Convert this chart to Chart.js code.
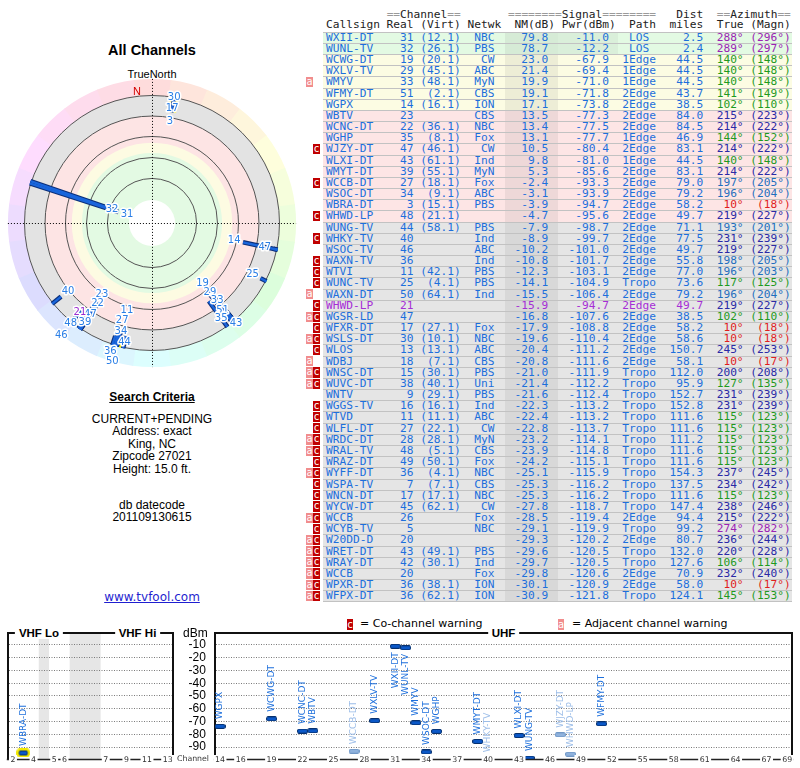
<!DOCTYPE html>
<html><head><meta charset="utf-8">
<script src="https://cdn.jsdelivr.net/npm/chart.js@4.4.1/dist/chart.umd.min.js"></script>
<style>
body{margin:0;background:#fff;}
#page{position:relative;width:800px;height:768px;overflow:hidden;font-family:"Liberation Sans",Arial,sans-serif;color:#000;background:#fff;}
.abs{position:absolute;white-space:nowrap;}
.c200{width:200px;text-align:center;}
.row{position:absolute;left:323px;width:469px;height:11.17px;}
.txt{position:absolute;left:3px;top:0;font-family:"DejaVu Sans Mono",monospace;font-size:11.2px;line-height:11.17px;white-space:pre;}
.eq{color:#9a9a9a;}
.flag{position:absolute;width:6.5px;height:10.2px;font-family:"DejaVu Sans Mono",monospace;font-size:10px;line-height:10px;color:#fff;text-align:center;}
.fa{background:#f18d8d;}
.fc{background:#c00000;}
.ttl{position:absolute;white-space:nowrap;font-weight:bold;font-size:11.5px;line-height:12px;background:#fff;padding:0 4px;transform:translateX(-50%);}
canvas{position:absolute;}
</style></head>
<body><div id="page">
<div class="abs c200" style="left:52px;top:41px;font-weight:bold;font-size:14.5px;line-height:18px;">All Channels</div>
<div class="abs c200" style="left:52px;top:67px;font-size:11px;line-height:14px;">TrueNorth</div>
<div class="abs c200" style="left:52px;top:390px;font-size:12px;line-height:14px;font-weight:bold;"><span style="text-decoration:underline;">Search Criteria</span></div>
<div class="abs c200" style="left:52px;top:413px;font-size:12px;line-height:12.4px;">CURRENT+PENDING<br>Address: exact<br>King, NC<br>Zipcode 27021<br>Height: 15.0 ft.</div>
<div class="abs c200" style="left:52px;top:499px;font-size:12px;line-height:12.4px;">db datecode<br>201109130615</div>
<div class="abs c200" style="left:52px;top:590px;font-size:12px;line-height:15px;font-family:'DejaVu Sans',sans-serif;color:#1f1fd0;text-decoration:underline;">www.tvfool.com</div>
<canvas id="polar" width="300" height="300" style="left:2px;top:73px;width:300px;height:300px;"></canvas>

<div class="flag fc" style="left:346.7px;top:618.5px;height:11px;line-height:11px;">c</div>
<div class="abs" style="left:360px;top:617px;font-family:'DejaVu Sans',sans-serif;font-size:11px;line-height:14px;">= Co-channel warning</div>
<div class="flag fa" style="left:557.7px;top:618.5px;height:11px;line-height:11px;">a</div>
<div class="abs" style="left:572px;top:617px;font-family:'DejaVu Sans',sans-serif;font-size:11px;line-height:14px;">= Adjacent channel warning</div>

<canvas id="vhf" width="180" height="140" style="left:0px;top:628px;width:180px;height:140px;"></canvas>
<canvas id="uhf" width="625" height="140" style="left:175px;top:628px;width:625px;height:140px;"></canvas>
<div class="ttl" style="left:39px;top:627px;">VHF Lo</div>
<div class="ttl" style="left:137.5px;top:627px;">VHF Hi</div>
<div class="ttl" style="left:503.5px;top:627px;">UHF</div>
<div class="abs" style="left:183px;top:626px;font-size:12px;line-height:14px;">dBm</div>
<div class="abs" style="left:177px;top:754px;font-family:'DejaVu Sans',sans-serif;font-size:7.8px;line-height:10px;color:#333;background:#fff;">Channel</div>
</div>
<script>
// ---------------- DATA ----------------
const callsigns = ['WXII-DT','WUNL-TV','WCWG-DT','WXLV-TV','WMYV','WFMY-DT','WGPX','WBTV','WCNC-DT','WGHP','WJZY-DT','WLXI-DT','WMYT-DT','WCCB-DT','WSOC-DT','WBRA-DT','WHWD-LP','WUNG-TV','WHKY-TV','WSOC-TV','WAXN-TV','WTVI','WUNC-TV','WAXN-DT','WHWD-LP','WGSR-LD','WFXR-DT','WSLS-DT','WLOS','WDBJ','WNSC-DT','WUVC-DT','WNTV','WGGS-TV','WTVD','WLFL-DT','WRDC-DT','WRAL-TV','WRAZ-DT','WYFF-DT','WSPA-TV','WNCN-DT','WYCW-DT','WCCB','WCYB-TV','W20DD-D','WRET-DT','WRAY-DT','WCCB','WPXR-DT','WFPX-DT'];
const realChannels = [31,32,19,29,33,51,14,23,22,35,47,43,39,27,34,3,48,44,40,46,36,11,25,50,21,47,17,30,13,18,15,38,9,16,11,27,28,48,49,36,7,17,45,26,5,20,43,42,20,36,36];
const virtualChannels = ['12.1','26.1','20.1','45.1','48.1','2.1','16.1','','36.1','8.1','46.1','61.1','55.1','18.1','9.1','15.1','21.1','58.1','','','','42.1','4.1','64.1','','','27.1','10.1','13.1','7.1','30.1','40.1','29.1','16.1','11.1','22.1','28.1','5.1','50.1','4.1','7.1','17.1','62.1','','','','49.1','30.1','','38.1','62.1'];
const networks = ['NBC','PBS','CW','ABC','MyN','CBS','ION','CBS','NBC','Fox','CW','Ind','MyN','Fox','ABC','PBS','','PBS','Ind','ABC','Ind','PBS','PBS','Ind','','','Fox','NBC','ABC','CBS','PBS','Uni','PBS','Ind','ABC','CW','MyN','CBS','Fox','NBC','CBS','NBC','CW','Fox','NBC','','PBS','Ind','Fox','ION','ION'];
const noiseMarginDb = [79.8,78.7,23.0,21.4,19.9,19.1,17.1,13.5,13.4,13.1,10.5,9.8,5.3,-2.4,-3.1,-3.9,-4.7,-7.9,-8.9,-10.2,-10.8,-12.3,-14.1,-15.5,-15.9,-16.8,-17.9,-19.6,-20.4,-20.8,-21.0,-21.4,-21.6,-22.3,-22.4,-22.8,-23.2,-23.9,-24.2,-25.1,-25.3,-25.3,-27.8,-28.5,-29.1,-29.3,-29.6,-29.7,-29.8,-30.1,-30.9];
const powerDbm = [-11.0,-12.2,-67.9,-69.4,-71.0,-71.8,-73.8,-77.3,-77.5,-77.7,-80.4,-81.0,-85.6,-93.3,-93.9,-94.7,-95.6,-98.7,-99.7,-101.0,-101.7,-103.1,-104.9,-106.4,-94.7,-107.6,-108.8,-110.4,-111.2,-111.6,-111.9,-112.2,-112.4,-113.2,-113.2,-113.7,-114.1,-114.8,-115.1,-115.9,-116.2,-116.2,-118.7,-119.4,-119.9,-120.2,-120.5,-120.5,-120.6,-120.9,-121.8];
const paths = ['LOS','LOS','1Edge','1Edge','1Edge','2Edge','2Edge','2Edge','2Edge','1Edge','2Edge','1Edge','2Edge','2Edge','2Edge','2Edge','2Edge','2Edge','2Edge','2Edge','2Edge','2Edge','Tropo','2Edge','2Edge','2Edge','2Edge','2Edge','2Edge','2Edge','Tropo','Tropo','Tropo','Tropo','Tropo','Tropo','Tropo','Tropo','Tropo','Tropo','Tropo','Tropo','Tropo','2Edge','Tropo','2Edge','Tropo','Tropo','2Edge','2Edge','Tropo'];
const distMiles = [2.5,2.4,44.5,44.5,44.5,43.7,38.5,84.0,84.5,46.9,83.1,44.5,83.1,79.0,79.2,58.2,49.7,71.1,77.5,49.7,55.8,77.0,73.6,79.2,49.7,38.5,58.2,58.6,150.7,58.1,112.0,95.9,152.7,152.8,111.6,111.6,111.2,111.6,111.6,154.3,137.5,111.6,147.4,94.4,99.2,80.7,132.0,127.6,70.9,58.0,124.1];
const azimuthTrue = [288,289,140,140,140,141,102,215,214,144,214,140,214,197,196,10,219,193,231,219,198,196,117,196,219,102,10,10,245,10,200,127,231,231,115,115,115,115,115,237,234,115,238,215,274,236,220,106,232,10,145];
const azimuthMagn = [296,297,148,148,148,149,110,223,222,152,222,148,222,205,204,18,227,201,239,227,205,203,125,204,227,110,18,18,253,17,208,135,239,239,123,123,123,123,123,245,242,123,246,222,282,244,228,114,240,17,153];
const warnings = ['','','','','a','','','','','','c','','','c','','','c','','c','','c','c','c','a','c','ac','c','ac','c','a','ac','ac','','c','c','c','ac','ac','c','ac','c','c','c','ac','c','ac','ac','ac','ac','ac','ac'];
const recordStatus = ['L','L','L','L','L','L','L','L','L','L','L','L','L','L','L','L','L','L','L','L','L','L','L','L','P','L','L','L','L','L','L','L','L','L','L','L','L','L','L','L','L','L','L','L','L','L','L','L','L','L','L'];

const dbmTicks = [-10,-20,-30,-40,-50,-60,-70,-80,-90];
const vhfTickChannels = [2,4,5,6,7,9,11,13];
const uhfTickChannels = [14,16,19,22,25,28,31,34,37,40,43,46,49,52,55,58,61,64,67,69];
const polarRingLevelsNm = [-20.3, 2, 24.2, 47, 69.7];

// ---------------- TABLE ----------------
const page = document.getElementById('page');
const ROW_H = 11.17, ROW0 = 31.715;
function azimuthColor(az){
  if (az < 60 || az >= 330) return '#e01e1e';
  if (az < 170) return '#1f9a1f';
  if (az < 199) return '#1f6fbe';
  if (az < 262) return '#2a2aa6';
  return '#9b22b4';
}
function zoneColor(nm){
  if (nm >= 30) return '#e3fae3';
  if (nm >= 15) return '#fcfce3';
  if (nm >= -6) return '#fde5e5';
  return '#e5e5e5';
}
function center5(s){ const t = 5 - s.length, l = Math.floor(t/2); return ' '.repeat(l) + s + ' '.repeat(t - l); }
function addDiv(parent, cls, css, html){ const d = document.createElement('div'); if (cls) d.className = cls; d.style.cssText = css; if (html !== undefined) d.innerHTML = html; parent.appendChild(d); return d; }

const header1 = '         ==Channel==       ========Signal========   Dist  ==Azimuth==';
const header2 = 'Callsign Real (Virt) Netwk  NM(dB) Pwr(dBm)  Path  miles  True (Magn)';
[header1, header2].forEach((h, k) => {
  const r = addDiv(page, 'row', `top:${(k === 0 ? 14.7 : 25) - 5.585}px;`);
  addDiv(r, 'txt', 'color:#222;', h.replace(/(=+)/g, '<span class="eq">$1</span>'));
});

callsigns.forEach((cs, i) => {
  const top = ROW0 + i * ROW_H;
  const r = addDiv(page, 'row', `top:${top}px;background:${zoneColor(noiseMarginDb[i])};`);
  addDiv(r, '', 'position:absolute;left:182px;width:53px;top:0;height:100%;background:rgba(60,60,60,0.08);');
  if (paths[i] === 'LOS') addDiv(r, '', 'position:absolute;left:235px;width:60px;top:0;height:100%;background:rgba(120,120,120,0.08);');
  addDiv(r, '', 'position:absolute;left:0;width:100%;top:0;height:1px;background:#c2c2c2;');
  if (i === callsigns.length - 1) addDiv(r, '', 'position:absolute;left:0;width:100%;bottom:-1px;height:1px;background:#c2c2c2;');
  const main = cs.padEnd(9) + String(realChannels[i]).padStart(4) + ' ' +
    (virtualChannels[i] ? '(' + virtualChannels[i] + ')' : '').padStart(6) +
    networks[i].padStart(5) + noiseMarginDb[i].toFixed(1).padStart(8) +
    powerDbm[i].toFixed(1).padStart(9) + '  ' + center5(paths[i]) +
    distMiles[i].toFixed(1).padStart(7);
  const az = (azimuthTrue[i] + '°').padStart(6) + ' ' + ('(' + azimuthMagn[i] + '°)').padStart(6);
  const mainColor = recordStatus[i] === 'P' ? '#a52ed6' : '#1d6fdc';
  addDiv(r, 'txt', '', `<span style="color:${mainColor}">${main}</span><span style="color:${azimuthColor(azimuthTrue[i])}">${az}</span>`);
  if (warnings[i].includes('a')) addDiv(page, 'flag fa', `left:306.3px;top:${top + 0.6}px;`, 'a');
  if (warnings[i].includes('c')) addDiv(page, 'flag fc', `left:313.3px;top:${top + 0.6}px;`, 'c');
});

// ---------------- POLAR ----------------
const NM_TOP = 118, NM_FLOOR = polarRingLevelsNm[0];
const RIM_NM = -38.3, DISK_NM = 93;
const U_EXT = 150 / 0.922;
const uOf = nm => NM_TOP - nm;
function polarPoint(nm, az){ const a = az * Math.PI / 180, u = uOf(nm); return {x: u * Math.sin(a), y: u * Math.cos(a)}; }
const polarIdx = callsigns.map((c, i) => i).filter(i => noiseMarginDb[i] > NM_FLOOR);
const polarDatasets = [];
polarIdx.forEach(i => {
  const pend = recordStatus[i] === 'P';
  const data = [polarPoint(noiseMarginDb[i], azimuthTrue[i]), polarPoint(NM_FLOOR - 1, azimuthTrue[i])];
  if (realChannels[i] <= 13) polarDatasets.push({data, showLine: true, borderColor: '#f3ea00', borderWidth: 9, pointRadius: 0, order: 3});
  polarDatasets.push({data, showLine: true, borderColor: pend ? '#5c1a86' : '#0b2f7a', borderWidth: 4.6, pointRadius: 0, order: 2});
  polarDatasets.push({data, showLine: true, borderColor: pend ? '#b048e6' : '#1a66dc', borderWidth: 2.4, pointRadius: 0, order: 1});
});
const polarBands = [
  {nm: NM_FLOOR, color: '#e3e3e3'},
  {nm: 2, color: '#fde4e4'},
  {nm: 31, color: '#fdfbe2'},
  {nm: 42, color: '#e3fae3'},
  {nm: DISK_NM, color: '#ffffff'}
];
const polarBg = {
  id: 'polarBg',
  beforeDatasetsDraw(chart){
    const {ctx} = chart; const xs = chart.scales.x, ys = chart.scales.y;
    const cx = xs.getPixelForValue(0), cy = ys.getPixelForValue(0);
    const k = xs.getPixelForValue(1) - cx;
    const R = nm => uOf(nm) * k;
    ctx.save();
    const rOut = R(RIM_NM), rIn = R(NM_FLOOR) - 1;
    for (let s = 0; s < 24; s++) {
      const a0 = (s * 15 - 7.5 - 90) * Math.PI / 180, a1 = a0 + 15.3 * Math.PI / 180;
      ctx.beginPath(); ctx.arc(cx, cy, rOut, a0, a1); ctx.arc(cx, cy, rIn, a1, a0, true); ctx.closePath();
      ctx.fillStyle = `hsl(${s * 15},95%,93%)`; ctx.fill();
    }
    polarBands.forEach(b => { ctx.beginPath(); ctx.arc(cx, cy, R(b.nm), 0, 2 * Math.PI); ctx.fillStyle = b.color; ctx.fill(); });
    ctx.strokeStyle = '#555'; ctx.lineWidth = 1;
    polarRingLevelsNm.forEach(nm => { ctx.beginPath(); ctx.arc(cx, cy, R(nm), 0, 2 * Math.PI); ctx.stroke(); });
    ctx.strokeStyle = '#000'; ctx.setLineDash([1, 2]);
    ctx.beginPath(); ctx.moveTo(cx - rOut, cy + 0.5); ctx.lineTo(cx + rOut, cy + 0.5);
    ctx.moveTo(cx + 0.5, cy - rOut); ctx.lineTo(cx + 0.5, cy + rOut); ctx.stroke();
    ctx.setLineDash([]);
    ctx.fillStyle = '#d40000'; ctx.font = '11px "Liberation Sans", Arial'; ctx.textAlign = 'center'; ctx.textBaseline = 'middle';
    ctx.fillText('N', cx - 15, cy - R(NM_FLOOR) - 4);
    ctx.restore();
  },
  afterDatasetsDraw(chart){
    const {ctx} = chart; const xs = chart.scales.x, ys = chart.scales.y;
    const cx = xs.getPixelForValue(0), cy = ys.getPixelForValue(0);
    const k = xs.getPixelForValue(1) - cx;
    ctx.save();
    ctx.font = '10px "DejaVu Sans"'; ctx.textAlign = 'center'; ctx.textBaseline = 'middle';
    ctx.lineJoin = 'round';
    const placed = [];
    const order = polarIdx.slice().sort((a, b) => noiseMarginDb[b] - noiseMarginDb[a]);
    order.forEach(i => {
      const txt = String(realChannels[i]);
      const w = ctx.measureText(txt).width + 1, h = 9;
      const a = azimuthTrue[i] * Math.PI / 180;
      const base = uOf(noiseMarginDb[i]) * k - 9;
      const cands = [];
      for (let d = 0; d <= 72; d += 5) if (base + d <= 146) cands.push(base + d);
      for (let d = 5; d <= 30; d += 5) cands.push(base - d);
      let pos = null;
      for (const r of cands) {
        const x = cx + r * Math.sin(a), y = cy - r * Math.cos(a);
        if (!placed.some(p => Math.abs(p.x - x) < (p.w + w) / 2 - 1 && Math.abs(p.y - y) < h - 1)) { pos = {x, y, w}; break; }
      }
      if (!pos) pos = {x: cx + base * Math.sin(a), y: cy - base * Math.cos(a), w};
      placed.push(pos);
      ctx.lineWidth = 3; ctx.strokeStyle = '#fff'; ctx.strokeText(txt, pos.x, pos.y);
      ctx.fillStyle = recordStatus[i] === 'P' ? '#9a2bd0' : '#2b7fe6';
      ctx.fillText(txt, pos.x, pos.y);
    });
    ctx.restore();
  }
};
new Chart(document.getElementById('polar'), {
  type: 'scatter',
  data: {datasets: polarDatasets},
  options: {
    responsive: false, animation: false, events: [],
    layout: {padding: 0},
    plugins: {legend: {display: false}, tooltip: {enabled: false}},
    scales: {
      x: {type: 'linear', min: -U_EXT, max: U_EXT, display: false},
      y: {type: 'linear', min: -U_EXT, max: U_EXT, display: false}
    }
  },
  plugins: [polarBg]
});

// ---------------- SPECTRUM BARS ----------------
const Y_MIN = -99.8, Y_MAX = -0.6;
const vhfSlot = ch => ch <= 4 ? ch - 2 : ch <= 6 ? ch - 1 : ch + 2;
const uhfSlot = ch => ch;
function rrect(g, x, y, w, h, r){ g.beginPath(); g.moveTo(x + r, y); g.lineTo(x + w - r, y); g.arcTo(x + w, y, x + w, y + r, r); g.lineTo(x + w, y + h - r); g.arcTo(x + w, y + h, x + w - r, y + h, r); g.lineTo(x + r, y + h); g.arcTo(x, y + h, x, y + h - r, r); g.lineTo(x, y + r); g.arcTo(x, y, x + r, y, r); g.closePath(); }
function barImage(fill, stroke, halo){
  const c = document.createElement('canvas');
  const W = halo ? 14 : 11, H = halo ? 9 : 5; c.width = W; c.height = H;
  const g = c.getContext('2d');
  if (halo) { g.fillStyle = '#f2e800'; rrect(g, 0, 0, W, H, 4); g.fill(); rrect(g, 3, 2.5, 8, 4, 1); }
  else rrect(g, 0.5, 0.5, 10, 4, 1.5);
  g.fillStyle = fill; g.strokeStyle = stroke; g.lineWidth = 1; g.fill(); g.stroke();
  return c;
}
const imgSolid = barImage('#0b58c8', '#06306e', false);
const imgFaded = barImage('#8fb2dd', '#7097c6', false);
const imgVhf = barImage('#0b58c8', '#06306e', true);

function bandDatasets(isVhf){
  const groups = {solid: [], faded: [], vhf: []};
  callsigns.forEach((c, i) => {
    if (recordStatus[i] === 'P' || powerDbm[i] < Y_MIN) return;
    const ch = realChannels[i];
    if ((ch <= 13) !== isVhf) return;
    const pt = {x: isVhf ? vhfSlot(ch) : uhfSlot(ch), y: powerDbm[i], i};
    if (warnings[i].includes('c')) groups.faded.push(pt);
    else if (ch <= 13) groups.vhf.push(pt);
    else groups.solid.push(pt);
  });
  return [
    {data: groups.vhf, pointStyle: imgVhf, pointRadius: 4, labelColor: '#1d6fdc'},
    {data: groups.solid, pointStyle: imgSolid, pointRadius: 4, labelColor: '#1d6fdc'},
    {data: groups.faded, pointStyle: imgFaded, pointRadius: 4, labelColor: '#9cbde8'}
  ];
}
const barLabels = {
  id: 'barLabels',
  afterDatasetsDraw(chart){
    const {ctx, chartArea} = chart;
    ctx.save(); ctx.font = '9px "DejaVu Sans"'; ctx.textBaseline = 'middle';
    chart.data.datasets.forEach((ds, di) => {
      chart.getDatasetMeta(di).data.forEach((el, j) => {
        const txt = callsigns[ds.data[j].i];
        const w = ctx.measureText(txt).width;
        ctx.save(); ctx.translate(el.x, el.y); ctx.rotate(-Math.PI / 2); ctx.fillStyle = ds.labelColor;
        if (el.y - 7 - w < chartArea.top) { ctx.textAlign = 'right'; ctx.fillText(txt, -6, 0); }
        else { ctx.textAlign = 'left'; ctx.fillText(txt, 7, 0); }
        ctx.restore();
      });
    });
    ctx.restore();
  }
};
const vhfGaps = {
  id: 'vhfGaps',
  beforeDraw(chart){
    const {ctx, chartArea} = chart; const xs = chart.scales.x;
    ctx.save(); ctx.fillStyle = '#e6e6e6';
    [[4, 5], [6, 7]].forEach(([a, b]) => {
      const x0 = xs.getPixelForValue(vhfSlot(a) + 0.5), x1 = xs.getPixelForValue(vhfSlot(b) - 0.5);
      ctx.fillRect(x0, chartArea.top, x1 - x0, chartArea.bottom - chartArea.top);
    });
    ctx.restore();
  }
};
function channelAxis(tickList, toSlot){
  return {
    id: 'channelAxis',
    afterDraw(chart){
      const {ctx, chartArea} = chart; const xs = chart.scales.x;
      const y = chartArea.bottom;
      ctx.save();
      ctx.strokeStyle = '#222'; ctx.lineWidth = 1.3;
      ctx.beginPath(); ctx.moveTo(chartArea.left - 1, y); ctx.lineTo(chartArea.right + 1, y); ctx.stroke();
      ctx.font = '7.8px "DejaVu Sans"'; ctx.textAlign = 'center'; ctx.textBaseline = 'middle';
      tickList.forEach(ch => {
        const x = xs.getPixelForValue(toSlot(ch));
        const t = String(ch), w = ctx.measureText(t).width + 3;
        ctx.fillStyle = '#fff'; ctx.fillRect(x - w / 2, y - 4.5, w, 9);
        ctx.fillStyle = '#333'; ctx.fillText(t, x, y + 0.5);
      });
      ctx.restore();
    }
  };
}
function borderAxis(position){
  const horiz = position === 'top';
  return {type: 'linear', position, min: 0, max: 1,
    afterFit: s => { if (horiz) s.height = 0; else s.width = 0; s.paddingTop = s.paddingBottom = s.paddingLeft = s.paddingRight = 0; },
    grid: {display: false, drawTicks: false}, ticks: {display: false},
    border: {display: true, color: '#111', width: 2}};
}
function spectrumOptions(isVhf){
  return {
    responsive: false, animation: false, events: [],
    layout: {padding: isVhf ? {left: 7.8, right: 7.2, top: 5, bottom: 0} : {left: 0, right: 7.7, top: 5, bottom: 0}},
    plugins: {legend: {display: false}, tooltip: {enabled: false}},
    scales: {
      x: {type: 'linear', position: 'bottom', min: isVhf ? -0.5 : 13.5, max: isVhf ? 15.5 : 69.5,
        afterFit: s => { s.height = 8.5; s.paddingLeft = 0; s.paddingRight = 0; },
        grid: {display: false, drawTicks: false},
        border: {display: false},
        ticks: {display: false}},
      x2: borderAxis('top'),
      y: {type: 'linear', position: 'left', min: Y_MIN, max: Y_MAX,
        afterBuildTicks: s => { s.ticks = dbmTicks.map(v => ({value: v})); },
        afterFit: s => { s.width = isVhf ? 0 : 39.85; s.paddingTop = 0; s.paddingBottom = 0; },
        grid: {color: '#7a7a7a', lineWidth: 1, drawTicks: false},
        border: {display: true, color: '#111', width: 2, dash: [1, 1.5]},
        ticks: isVhf ? {display: false} : {display: true, autoSkip: false, padding: 9, color: '#000', font: {family: 'Liberation Sans', size: 12}}},
      y2: borderAxis('right')
    }
  };
}
new Chart(document.getElementById('vhf'), {type: 'scatter', data: {datasets: bandDatasets(true)}, options: spectrumOptions(true), plugins: [vhfGaps, barLabels, channelAxis(vhfTickChannels, vhfSlot)]});
new Chart(document.getElementById('uhf'), {type: 'scatter', data: {datasets: bandDatasets(false)}, options: spectrumOptions(false), plugins: [barLabels, channelAxis(uhfTickChannels, uhfSlot)]});
</script>
</body></html>
